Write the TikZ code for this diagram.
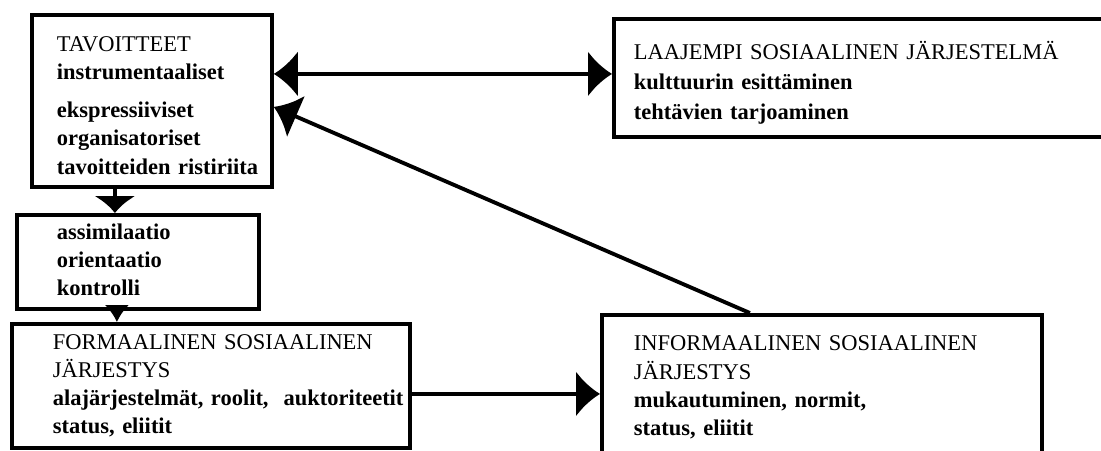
\documentclass[tikz,border=0pt]{standalone}
\usepackage{fontspec}
\setmainfont{Liberation Serif}
\usetikzlibrary{arrows.meta}

\newcommand{\topgap}[1]{\rule{0pt}{#1}}
\newcommand{\botgap}[1]{\rule[-#1]{0pt}{0pt}}

\tikzset{
	box/.style={draw, line width=2.2pt, anchor=north west, align=left, inner ysep=0pt,
		font=\fontsize{12.8pt}{16pt}\selectfont},
	flow/.style={line width=2.2pt},
	sidetip/.style={flow, -{Latex[length=0.48cm, width=0.92cm]}},
	twotip/.style={flow, {Latex[length=0.48cm, width=0.92cm]}-{Latex[length=0.48cm, width=0.92cm]}},
	downtip/.style={flow, -{Latex[length=0.34cm, width=#1]}},
}

\begin{document}
\begin{tikzpicture}[x=0.02cm, y=-0.02cm]
			\useasboundingbox (0, 0) rectangle (1101, 450);
			
			%Upper row
			\node[box, inner xsep=0.5cm, text width=3.8cm, minimum height=3.44cm] (tav) at (30, 13)
				{\topgap{0.48cm}TAVOITTEET\\ \textbf{instrumentaaliset}\\[0.2cm] \textbf{ekspressiiviset}\\
				 \textbf{organisatoriset}\\ \mbox{\textbf{tavoitteiden ristiriita}}};
			\node[box, inner xsep=0.4cm, text width=9.16cm, minimum height=2.36cm,
				font=\fontsize{12.8pt}{17.3pt}\selectfont] (laaj) at (612, 17)
				{\topgap{0.56cm}LAAJEMPI SOSIAALINEN JÄRJESTELMÄ\\ \textbf{kulttuurin esittäminen}\\
				 \textbf{tehtävien tarjoaminen}};
			
			%Middle
			\node[box, inner xsep=0.8cm, text width=3.24cm, minimum height=1.88cm] (assim) at (15, 213)
				{\textbf{assimilaatio}\\ \textbf{orientaatio}\\ \textbf{kontrolli}\botgap{0.1cm}};
			
			%Lower row
			\node[box, inner xsep=0.82cm, text width=6.32cm, minimum height=2.48cm] (formal) at (10, 322)
				{\mbox{FORMAALINEN SOSIAALINEN}\\ JÄRJESTYS\\
				 \mbox{\textbf{alajärjestelmät, roolit,~ auktoriteetit}}\\ \textbf{status, eliitit}};
			\node[box, inner xsep=0.64cm, text width=7.52cm, minimum height=2.9cm] (info) at (600, 313)
				{INFORMAALINEN SOSIAALINEN\\ JÄRJESTYS\\
				 \textbf{mukautuminen, normit,}\\ \textbf{status, eliitit}};
			
			%Arrows
			\coordinate (tavr) at ([yshift=0.54cm]tav.east);
			\draw[twotip] (tavr) -- (tavr -| laaj.west);
			\draw[sidetip] ([xshift=-1.44cm]info.north) -- ([yshift=-0.12cm]tav.east);
			
			\coordinate (tavb) at ([xshift=-0.74cm]tav.south);
			\draw[downtip=0.85cm] (tavb) -- (tavb |- assim.north);
			\coordinate (assimb) at ([xshift=-0.42cm]assim.south);
			\draw[downtip=0.5cm] (assimb) -- (assimb |- formal.north);
			
			\coordinate (formr) at ([yshift=-0.16cm]formal.east);
			\draw[sidetip] (formr) -- (formr -| info.west);
\end{tikzpicture}
\end{document}
